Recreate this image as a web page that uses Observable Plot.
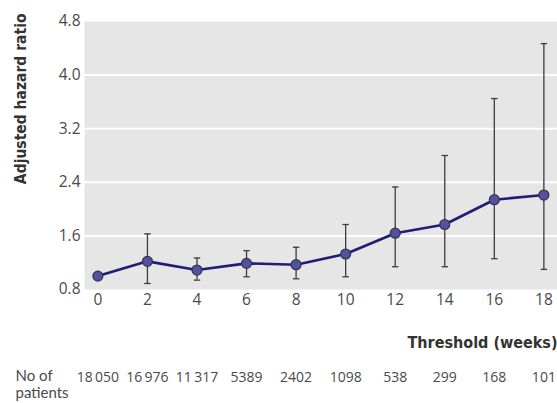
<!DOCTYPE html>
<html>
<head>
<meta charset="utf-8">
<script src="https://cdn.jsdelivr.net/npm/d3@7"></script>
<script src="https://cdn.jsdelivr.net/npm/@observablehq/plot@0.6"></script>
<style>
  body { margin: 0; background: #fff; }
  #chart svg { display: block; }
  .cond { font-stretch: condensed; }
</style>
</head>
<body>
<div id="chart"></div>
<script>
const thresholds = [0, 2, 4, 6, 8, 10, 12, 14, 16, 18];
const hazardRatio = [1.0, 1.22, 1.09, 1.19, 1.17, 1.33, 1.64, 1.77, 2.14, 2.21];
const lowerCI = [1.0, 0.89, 0.94, 0.99, 0.96, 0.99, 1.14, 1.14, 1.26, 1.10];
const upperCI = [1.0, 1.63, 1.27, 1.38, 1.43, 1.77, 2.33, 2.80, 3.65, 4.47];
const patients = [18050, 16976, 11317, 5389, 2402, 1098, 538, 299, 168, 101];
const yTicks = [0.8, 1.6, 2.4, 3.2, 4.0, 4.8];
const xTicks = thresholds;
const rowLabel = ["No of", "patients"];

const data = thresholds.map((t, i) => ({
  t, hr: hazardRatio[i], lo: lowerCI[i], hi: upperCI[i], n: patients[i]
}));
const bars = data.filter(d => d.hi > d.lo);
const fmtN = n => n >= 10000 ? d3.format(",")(n).replace(/,/g, "\u2009") : String(n);
const capHalf = 0.13;
const bold = "'DejaVu Sans Condensed', 'DejaVu Sans', sans-serif";

const chart = Plot.plot({
  width: 557,
  height: 403,
  marginTop: 21,
  marginBottom: 114,
  marginLeft: 84,
  marginRight: 0,
  style: { fontFamily: "'Open Sans', sans-serif", fontSize: "15.5px", color: "#4a4a4a", background: "#fff" },
  x: { domain: [-0.54, 18.55] },
  y: { domain: [0.8, 4.8] },
  marks: [
    Plot.frame({ fill: "#e6e6e6", stroke: null }),
    Plot.gridY(yTicks.filter(v => v > 0.8 && v < 4.8), { stroke: "#fff", strokeOpacity: 1, strokeWidth: 2 }),
    Plot.axisY({ ticks: yTicks, tickSize: 0, tickPadding: 4, tickFormat: d => d.toFixed(1), label: null }),
    Plot.axisX({ ticks: xTicks, tickSize: 0, tickPadding: 4, label: null }),
    Plot.ruleX(bars, { x: "t", y1: "lo", y2: "hi", stroke: "#3d3d3d", strokeWidth: 1.3 }),
    Plot.link(bars, { x1: d => d.t - capHalf, x2: d => d.t + capHalf, y1: "hi", y2: "hi", stroke: "#3d3d3d", strokeWidth: 1.3 }),
    Plot.link(bars, { x1: d => d.t - capHalf, x2: d => d.t + capHalf, y1: "lo", y2: "lo", stroke: "#3d3d3d", strokeWidth: 1.3 }),
    Plot.line(data, { x: "t", y: "hr", stroke: "#221c75", strokeWidth: 2.6 }),
    Plot.dot(data, { x: "t", y: "hr", r: 5, fill: "#5352a0", stroke: "#33334d", strokeWidth: 1.2 }),
    Plot.text(["Adjusted hazard ratio"], {
      frameAnchor: "top-left", rotate: -90, textAnchor: "end", dx: -70, dy: -8,
      fontFamily: bold, fontWeight: "bold", fontSize: 15.5, fill: "#333", className: "cond"
    }),
    Plot.text(["Threshold (weeks)"], {
      frameAnchor: "bottom-right", textAnchor: "end", dx: 0, dy: 58,
      fontFamily: bold, fontWeight: "bold", fontSize: 16, fill: "#333", className: "cond"
    }),
    Plot.text(data, {
      x: "t", text: d => fmtN(d.n), frameAnchor: "bottom", dy: 92,
      fontSize: 14, fill: "#4a4a4a"
    }),
    Plot.text([rowLabel[0]], {
      frameAnchor: "bottom-left", textAnchor: "start", dx: -69, dy: 91,
      fontFamily: "Lato, sans-serif", fontSize: 15, fill: "#4a4a4a"
    }),
    Plot.text([rowLabel[1]], {
      frameAnchor: "bottom-left", textAnchor: "start", dx: -69, dy: 108,
      fontFamily: "Lato, sans-serif", fontSize: 15, fill: "#4a4a4a"
    })
  ]
});
document.getElementById("chart").appendChild(chart);
</script>
</body>
</html>
